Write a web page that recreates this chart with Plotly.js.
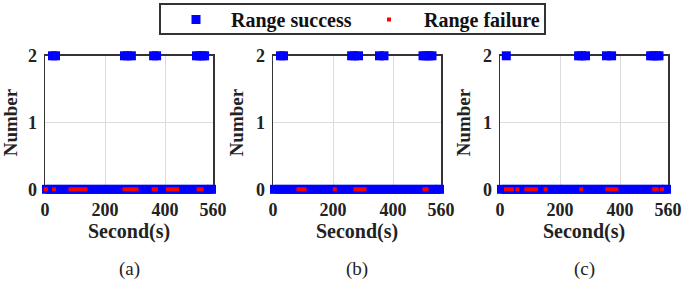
<!DOCTYPE html>
<html>
<head>
<meta charset="utf-8">
<script src="https://cdn.plot.ly/plotly-3.0.1.min.js"></script>
<style>html,body{margin:0;padding:0;background:#fff;}#chart{width:685px;height:281px;}</style>
</head>
<body>
<div id="chart"></div>
<script>
// ---- data ----
const panelLabels = ["(a)", "(b)", "(c)"];
const xTickVals = [0, 200, 400, 560];
const yTickVals = [0, 1, 2];
// times (s) with range success where Number = 0 (same for all panels)
const success0Times = [5,20,35,50,65,80,95,110,125,140,155,170,185,200,215,230,245,260,275,290,305,320,335,350,365,380,395,410,425,440,455,470,485,500,515,530,545,555];
// times (s) with range success where Number = 2
const successA2 = [25,35,265,275,288,362,372,505,515,525,532];
const successB2 = [25,35,262,272,285,355,370,500,510,520,530];
const successC2 = [21,262,272,285,355,372,502,512,522,530];
// times (s) with range failure (Number = 0)
const failureA = [3,30,85,95,105,115,125,135,265,275,285,295,305,362,370,410,420,430,440,512,522];
const failureB = [85,95,105,206,275,285,295,305,505,512];
const failureC = [20,30,40,58,88,98,108,120,152,271,358,368,378,388,514,522,540];

const success2 = [successA2, successB2, successC2];
const failures = [failureA, failureB, failureC];

// ---- layout ----
const W = 685, H = 281;
const xPix = [[45, 213], [273, 441], [500, 668]];
const yTopPix = 55, yBotPix = 189;
const serif = '"Liberation Serif", "Times New Roman", Times, serif';

const traces = [];
const layout = {
  width: W, height: H,
  margin: {l: 0, r: 0, t: 0, b: 0},
  paper_bgcolor: "#fff", plot_bgcolor: "#fff",
  showlegend: true,
  legend: {
    orientation: "h", x: 161 / W, xanchor: "left", y: 1 + 1 / H, yanchor: "top",
    borderwidth: 0, bgcolor: "rgba(0,0,0,0)",
    font: {family: serif, size: 20, color: "#111", weight: "bold"},
    itemwidth: 60,
    entrywidth: 118, entrywidthmode: "pixels", itemsizing: "trace"
  },
  shapes: [{
    type: "rect", xref: "paper", yref: "paper",
    x0: 160 / W, x1: 545 / W, y0: 1 - 33 / H, y1: 1 - 3 / H,
    line: {color: "#333", width: 2}, fillcolor: "#fff", layer: "above"
  }],
  annotations: []
};

for (let i = 0; i < 3; i++) {
  const xa = i === 0 ? "x" : "x" + (i + 1);
  const ya = i === 0 ? "y" : "y" + (i + 1);
  const sx = success0Times.concat(success2[i]);
  const sy = success0Times.map(() => 0).concat(success2[i].map(() => 2));
  traces.push({
    type: "scatter", mode: "markers", x: sx, y: sy, xaxis: xa, yaxis: ya,
    name: "Range success", showlegend: i === 0, cliponaxis: false,
    marker: {symbol: "square", size: 9, color: "#0000ff", line: {width: 0}}
  });
  traces.push({
    type: "scatter", mode: "markers", x: failures[i], y: failures[i].map(() => 0), xaxis: xa, yaxis: ya,
    name: "Range failure", showlegend: i === 0, cliponaxis: false,
    marker: {symbol: "square", size: 4, color: "#ff0000", line: {width: 0}}
  });
  const axX = {
    domain: [xPix[i][0] / W, xPix[i][1] / W], range: [0, 560],
    tickvals: xTickVals, ticktext: xTickVals.map(String),
    showgrid: true, gridcolor: "#dcdcdc", gridwidth: 1, zeroline: false,
    showline: true, linecolor: "#333", linewidth: 1.5, mirror: true, ticks: "",
    layer: "below traces",
    ticklabelstandoff: 4,
    tickfont: {family: serif, size: 18, color: "#222", weight: "bold"},
    title: {text: "Second(s)", font: {family: serif, size: 20, color: "#222", weight: "bold"}, standoff: 0},
    anchor: ya, fixedrange: true
  };
  const axY = {
    domain: [1 - yBotPix / H, 1 - yTopPix / H], range: [0, 2],
    tickvals: yTickVals, ticktext: yTickVals.map(String),
    showgrid: true, gridcolor: "#dcdcdc", gridwidth: 1, zeroline: false,
    showline: true, linecolor: "#333", linewidth: 1.5, mirror: true, ticks: "",
    layer: "below traces",
    ticklabelstandoff: 3,
    tickfont: {family: serif, size: 18, color: "#222", weight: "bold"},
    title: {text: "Number", font: {family: serif, size: 19, color: "#222", weight: "bold"}, standoff: 7},
    anchor: xa, fixedrange: true
  };
  layout[i === 0 ? "xaxis" : "xaxis" + (i + 1)] = axX;
  layout[i === 0 ? "yaxis" : "yaxis" + (i + 1)] = axY;
  layout.annotations.push({
    xref: "paper", yref: "paper",
    x: (xPix[i][0] + xPix[i][1]) / 2 / W, y: 1 - 269 / H,
    xanchor: "center", yanchor: "middle", showarrow: false,
    text: panelLabels[i], font: {family: serif, size: 19, color: "#222"}
  });
}

Plotly.newPlot("chart", traces, layout, {displayModeBar: false, staticPlot: true});
</script>
</body>
</html>
